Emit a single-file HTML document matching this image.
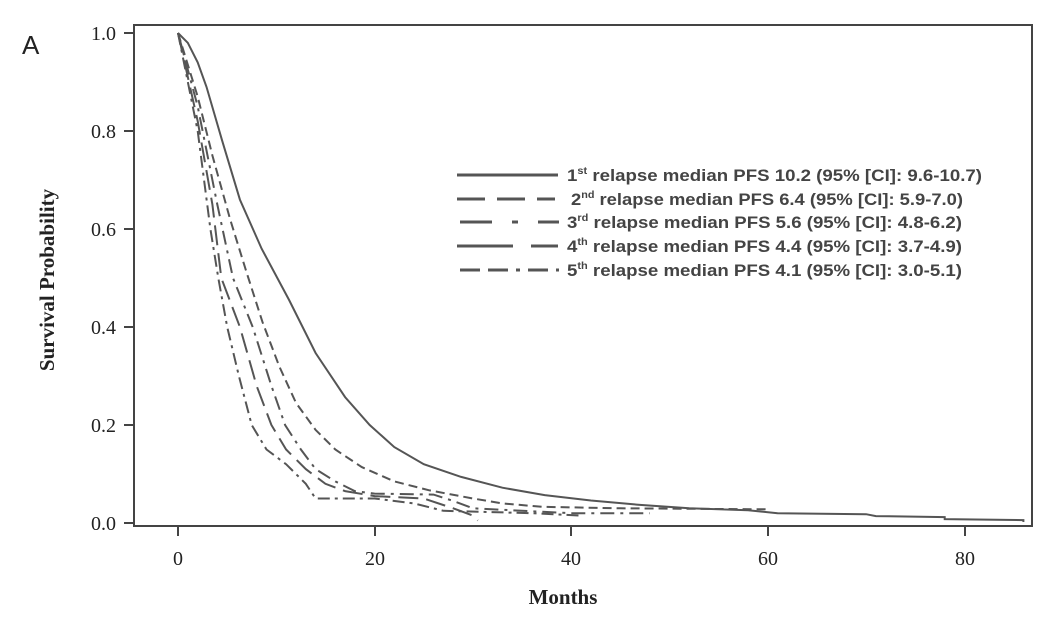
<!DOCTYPE html>
<html><head><meta charset="utf-8"><style>
html,body{margin:0;padding:0;background:#fff;width:1064px;height:623px;overflow:hidden}
svg{display:block}
.t{font-family:"Liberation Serif",serif;font-size:20px;fill:#222}
.l{font-family:"Liberation Sans",sans-serif;font-size:17px;font-weight:bold;fill:#444}
</style></head><body>
<svg id="s" width="1064" height="623" viewBox="0 0 1064 623">
<text x="22" y="54" style="font-family:'Liberation Sans',sans-serif;font-size:26px;fill:#222">A</text>
<rect x="134" y="25" width="898" height="501" fill="none" stroke="#444" stroke-width="2"/>
<g stroke="#444" stroke-width="2">
<line x1="124" y1="33" x2="134" y2="33"/><line x1="124" y1="131" x2="134" y2="131"/>
<line x1="124" y1="229" x2="134" y2="229"/><line x1="124" y1="327" x2="134" y2="327"/>
<line x1="124" y1="425" x2="134" y2="425"/><line x1="124" y1="523" x2="134" y2="523"/>
<line x1="178" y1="526" x2="178" y2="536"/><line x1="375" y1="526" x2="375" y2="536"/>
<line x1="571" y1="526" x2="571" y2="536"/><line x1="768" y1="526" x2="768" y2="536"/>
<line x1="965" y1="526" x2="965" y2="536"/>
</g>
<g class="t" text-anchor="end">
<text x="116" y="40">1.0</text><text x="116" y="138">0.8</text><text x="116" y="236">0.6</text>
<text x="116" y="334">0.4</text><text x="116" y="432">0.2</text><text x="116" y="530">0.0</text>
</g>
<g class="t" text-anchor="middle">
<text x="178" y="565">0</text><text x="375" y="565">20</text><text x="571" y="565">40</text>
<text x="768" y="565">60</text><text x="965" y="565">80</text>
<text x="563" y="604" style="font-size:21px;font-weight:bold">Months</text>
<text transform="translate(54,280) rotate(-90)" style="font-size:21px;font-weight:bold">Survival Probability</text>
</g>
<g id="curves" fill="none" stroke="#555" stroke-width="2"></g>
<g stroke="#555" stroke-width="3">
<line x1="457" y1="175" x2="558" y2="175"/>
<line x1="457" y1="199" x2="555" y2="199" stroke-dasharray="28,12"/>
<line x1="460" y1="222" x2="559" y2="222" stroke-dasharray="32,20,6,20,40"/>
<line x1="457" y1="246" x2="558" y2="246" stroke-dasharray="56,18,40"/>
<line x1="460" y1="270" x2="559" y2="270" stroke-dasharray="20,8,20,8,4,8,20,8,3"/>
</g>
<g class="l">
<text x="567" y="181" textLength="415" lengthAdjust="spacingAndGlyphs">1<tspan dy="-7" font-size="10">st</tspan><tspan dy="7"> relapse median PFS 10.2 (95% [CI]: 9.6-10.7)</tspan></text>
<text x="571" y="205" textLength="392" lengthAdjust="spacingAndGlyphs">2<tspan dy="-7" font-size="10">nd</tspan><tspan dy="7"> relapse median PFS 6.4 (95% [CI]: 5.9-7.0)</tspan></text>
<text x="567" y="228" textLength="395" lengthAdjust="spacingAndGlyphs">3<tspan dy="-7" font-size="10">rd</tspan><tspan dy="7"> relapse median PFS 5.6 (95% [CI]: 4.8-6.2)</tspan></text>
<text x="567" y="252" textLength="395" lengthAdjust="spacingAndGlyphs">4<tspan dy="-7" font-size="10">th</tspan><tspan dy="7"> relapse median PFS 4.4 (95% [CI]: 3.7-4.9)</tspan></text>
<text x="567" y="276" textLength="395" lengthAdjust="spacingAndGlyphs">5<tspan dy="-7" font-size="10">th</tspan><tspan dy="7"> relapse median PFS 4.1 (95% [CI]: 3.0-5.1)</tspan></text>
</g>
</svg>
<script>
var C=[
[[0,1],[1,0.98],[2,0.94],[2.9,0.89],[4.5,0.78],[6.3,0.66],[8.5,0.56],[11.3,0.455],[14,0.347],[17,0.257],[19.5,0.2],[22,0.155],[25,0.12],[28.8,0.094],[33,0.072],[37.3,0.057],[42,0.046],[47,0.037],[52,0.03],[58,0.026],[61,0.02],[70,0.018],[71,0.014],[78,0.012],[78,0.008],[86,0.006],[86,0.002]],
[[0,1],[2,0.87],[3.5,0.75],[5.3,0.62],[7,0.51],[8.6,0.41],[10.3,0.32],[12,0.245],[14,0.19],[16,0.15],[18.7,0.114],[22,0.085],[25.5,0.067],[30,0.05],[33,0.04],[37,0.033],[45,0.03],[60,0.028]],
[[0,1],[2,0.85],[4,0.65],[5.6,0.5],[7.6,0.4],[9.5,0.28],[10.9,0.2],[12.5,0.15],[14,0.11],[16,0.085],[18,0.065],[20,0.06],[26,0.058],[28,0.045],[30,0.03],[40,0.02],[48,0.02]],
[[0,1],[2,0.82],[3.5,0.65],[4.4,0.5],[6.3,0.4],[8,0.28],[9.5,0.2],[11,0.15],[13,0.11],[15,0.08],[17,0.065],[20,0.055],[25,0.05],[28,0.03],[30,0.015],[30.5,0.005]],
[[0,1],[2,0.8],[3.3,0.6],[4.1,0.5],[5,0.4],[6.2,0.3],[7.5,0.2],[9,0.15],[11,0.12],[13,0.08],[14,0.05],[20,0.05],[24,0.04],[27,0.025],[36,0.02],[41,0.015]]];
var D=["","9,5","14,6,3,6","20,8","12,5,3,5"];
var g=document.getElementById('curves'),h='';
C.forEach(function(c,i){var p=c.map(function(q,j){return (j?'L':'M')+(178+9.83*q[0]).toFixed(1)+','+(523-490*q[1]).toFixed(1)}).join('');
h+='<path d="'+p+'"'+(D[i]?' stroke-dasharray="'+D[i]+'"':'')+'/>';});
g.innerHTML=h;
</script>
</body></html>
